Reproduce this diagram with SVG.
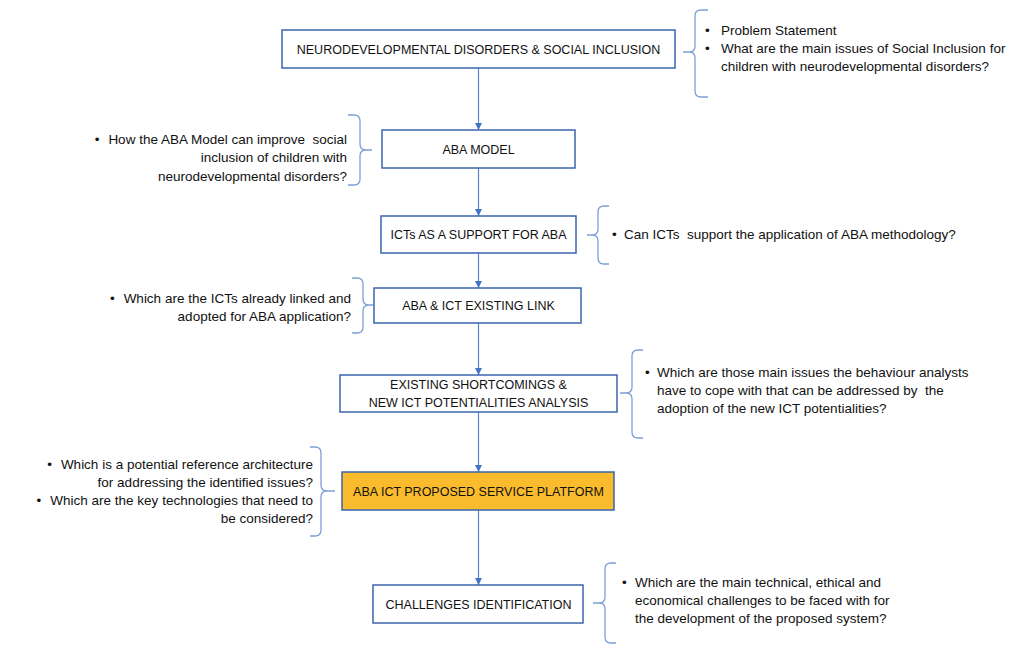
<svg xmlns="http://www.w3.org/2000/svg" width="1019" height="645" viewBox="0 0 1019 645">
  <defs>
    <marker id="arrow" markerWidth="7" markerHeight="7" refX="7" refY="3.5" orient="auto" markerUnits="userSpaceOnUse">
      <path d="M0,0 L7,3.5 L0,7 z" fill="#4472C4"/>
    </marker>
    <style>
      .box { fill: #ffffff; stroke: #3B64AD; stroke-width: 1.5; }
      .box.hl { fill: #FABB2C; }
      .lbl { font-family: "Liberation Sans", Arial, sans-serif; font-size: 12.5px; fill: #111111; text-anchor: middle; }
      .note { font-family: "Liberation Sans", Arial, sans-serif; font-size: 13.5px; fill: #111111; }
      .end { text-anchor: end; }
      .conn { stroke: #5B84CC; stroke-width: 1.2; fill: none; }
      .brace { stroke: #7E9FD6; stroke-width: 1.3; fill: none; }
    </style>
  </defs>
  <rect width="1019" height="645" fill="#ffffff"/>

  <!-- vertical flow connectors -->
  <g id="connectors">
    <line class="conn" x1="478.5" y1="68" x2="478.5" y2="130" marker-end="url(#arrow)"/>
    <line class="conn" x1="478.5" y1="168" x2="478.5" y2="216" marker-end="url(#arrow)"/>
    <line class="conn" x1="478.5" y1="253" x2="478.5" y2="288" marker-end="url(#arrow)"/>
    <line class="conn" x1="478.5" y1="323" x2="478.5" y2="375" marker-end="url(#arrow)"/>
    <line class="conn" x1="478.5" y1="412" x2="478.5" y2="472" marker-end="url(#arrow)"/>
    <line class="conn" x1="478.5" y1="510" x2="478.5" y2="585" marker-end="url(#arrow)"/>
  </g>

  <!-- flow steps -->
  <g id="node-neuro">
    <rect class="box" x="282" y="30" width="393" height="38"/>
    <text class="lbl" x="478.5" y="53.5">NEURODEVELOPMENTAL DISORDERS &amp; SOCIAL INCLUSION</text>
  </g>
  <g id="node-aba-model">
    <rect class="box" x="382" y="130" width="193" height="38"/>
    <text class="lbl" x="478.5" y="153.5">ABA MODEL</text>
  </g>
  <g id="node-icts-support">
    <rect class="box" x="381" y="216" width="195" height="37"/>
    <text class="lbl" x="478.5" y="239">ICTs AS A SUPPORT FOR ABA</text>
  </g>
  <g id="node-existing-link">
    <rect class="box" x="374" y="288" width="207" height="35"/>
    <text class="lbl" x="478.5" y="310">ABA &amp; ICT EXISTING LINK</text>
  </g>
  <g id="node-shortcomings">
    <rect class="box" x="340" y="375" width="277" height="37"/>
    <text class="lbl" x="478.5" y="389">EXISTING SHORTCOMINGS &amp;</text>
    <text class="lbl" x="478.5" y="407">NEW ICT POTENTIALITIES ANALYSIS</text>
  </g>
  <g id="node-platform">
    <rect class="box hl" x="342" y="472" width="272" height="38"/>
    <text class="lbl" x="478.5" y="495.5">ABA ICT PROPOSED SERVICE PLATFORM</text>
  </g>
  <g id="node-challenges">
    <rect class="box" x="373" y="585" width="210" height="38"/>
    <text class="lbl" x="478.5" y="608.5">CHALLENGES IDENTIFICATION</text>
  </g>

  <!-- question notes with braces -->
  <g id="note-neuro">
    <path class="brace" d="M708,10 L701,10 Q695,10 695,16 L695,46 Q695,52 689,52 L683,52 M689,52 Q695,52 695,58 L695,91 Q695,97 701,97 L708,97"/>
    <text class="note" x="705" y="34.5">•</text>
    <text class="note" x="721" y="34.5">Problem Statement</text>
    <text class="note" x="705" y="52.5">•</text>
    <text class="note" x="721" y="52.5">What are the main issues of Social Inclusion for</text>
    <text class="note" x="721" y="70.5">children with neurodevelopmental disorders?</text>
  </g>
  <g id="note-aba-model">
    <path class="brace" d="M348,115 L354,115 Q360,115 360,121 L360,144 Q360,150 366,150 L372,150 M366,150 Q360,150 360,156 L360,179 Q360,185 354,185 L348,185"/>
    <text class="note end" x="347" y="143.5" xml:space="preserve">•<tspan dx="9">How the ABA Model can improve  social</tspan></text>
    <text class="note end" x="347" y="162">inclusion of children with</text>
    <text class="note end" x="347" y="180.5">neurodevelopmental disorders?</text>
  </g>
  <g id="note-icts-support">
    <path class="brace" d="M609,206 L604,206 Q598,206 598,212 L598,229 Q598,235 592,235 L587,235 M592,235 Q598,235 598,241 L598,258 Q598,264 604,264 L609,264"/>
    <text class="note" x="612" y="238.5">•</text>
    <text class="note" x="624" y="238.5" xml:space="preserve">Can ICTs  support the application of ABA methodology?</text>
  </g>
  <g id="note-existing-link">
    <path class="brace" d="M352,278 L357,278 Q363,278 363,284 L363,299 Q363,305 369,305 L373,305 M369,305 Q363,305 363,311 L363,327 Q363,333 357,333 L352,333"/>
    <text class="note end" x="351" y="302.5" xml:space="preserve">•<tspan dx="9">Which are the ICTs already linked and</tspan></text>
    <text class="note end" x="351" y="320.5">adopted for ABA application?</text>
  </g>
  <g id="note-shortcomings">
    <path class="brace" d="M643,350 L638,350 Q632,350 632,356 L632,387 Q632,393 626,393 L620,393 M626,393 Q632,393 632,399 L632,432 Q632,438 638,438 L643,438"/>
    <text class="note" x="645" y="376.5">•</text>
    <text class="note" x="657" y="376.5">Which are those main issues the behaviour analysts</text>
    <text class="note" x="657" y="394.5" xml:space="preserve">have to cope with that can be addressed by  the</text>
    <text class="note" x="657" y="412.5">adoption of the new ICT potentialities?</text>
  </g>
  <g id="note-platform">
    <path class="brace" d="M310,447 L315,447 Q321,447 321,453 L321,485 Q321,491 327,491 L335,491 M327,491 Q321,491 321,497 L321,530 Q321,536 315,536 L310,536"/>
    <text class="note end" x="313" y="468.5" xml:space="preserve">•<tspan dx="9">Which is a potential reference architecture</tspan></text>
    <text class="note end" x="313" y="486.5">for addressing the identified issues?</text>
    <text class="note end" x="313" y="504.5" xml:space="preserve">•<tspan dx="9">Which are the key technologies that need to</tspan></text>
    <text class="note end" x="313" y="522.5">be considered?</text>
  </g>
  <g id="note-challenges">
    <path class="brace" d="M616,563 L611,563 Q605,563 605,569 L605,597 Q605,603 599,603 L593,603 M599,603 Q605,603 605,609 L605,637 Q605,643 611,643 L616,643"/>
    <text class="note" x="622" y="586.5">•</text>
    <text class="note" x="635" y="586.5">Which are the main technical, ethical and</text>
    <text class="note" x="635" y="604.5">economical challenges to be faced with for</text>
    <text class="note" x="635" y="622.5">the development of the proposed system?</text>
  </g>
</svg>
